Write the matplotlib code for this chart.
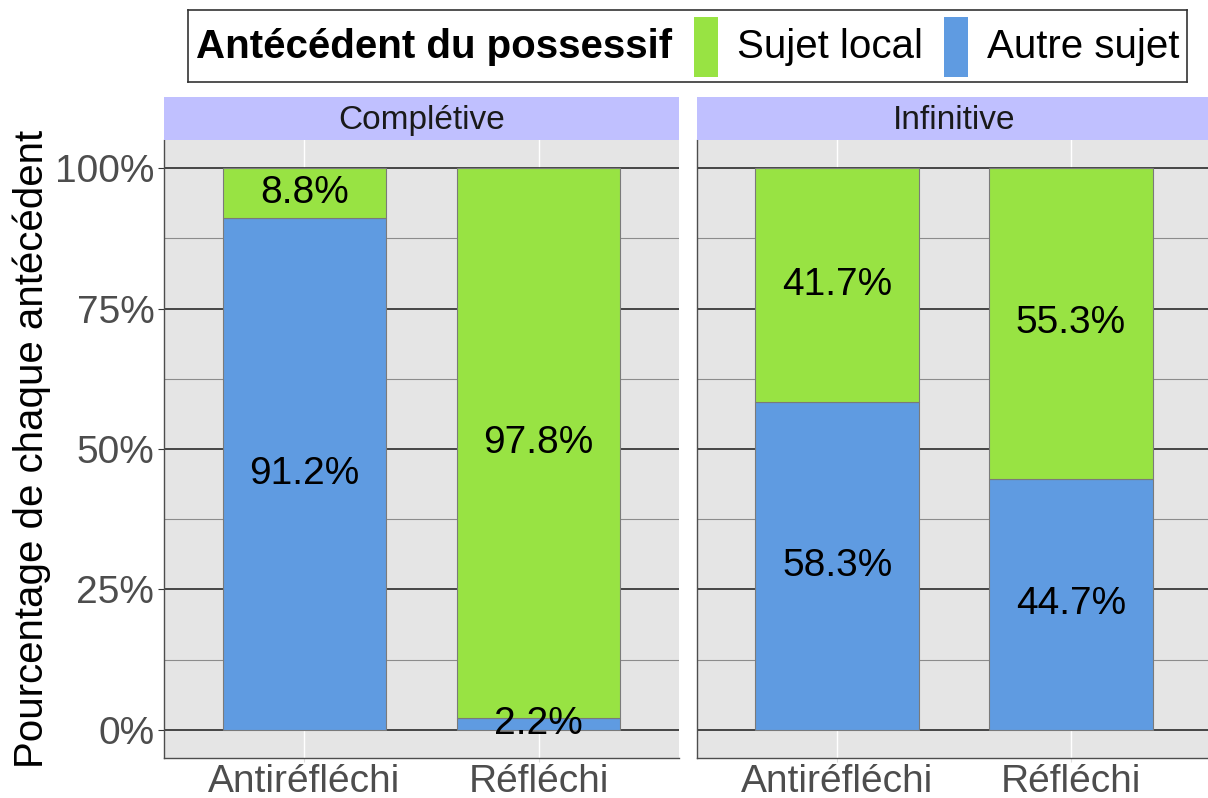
import matplotlib.pyplot as plt
from matplotlib.patches import Rectangle
from matplotlib.ticker import MultipleLocator, PercentFormatter

plt.rcParams['font.family'] = ['Liberation Sans', 'DejaVu Sans']

facets = ["Complétive", "Infinitive"]
categories = ["Antiréfléchi", "Réfléchi"]
# percentages per facet, bottom segment first
autre_sujet = [[91.2, 2.2], [58.3, 44.7]]
sujet_local = [[8.8, 97.8], [41.7, 55.3]]

green = "#98E343"
blue = "#5F9BE1"
W, H = 1208, 798

fig = plt.figure(figsize=(W / 100, H / 100), dpi=100)


def box(x0, x1, y0, y1):
    return [x0 / W, 1 - y1 / H, (x1 - x0) / W, (y1 - y0) / H]


# second panel runs slightly past the right edge of the canvas
panels = [(164, 679), (697, 1211)]
for i, (x0, x1) in enumerate(panels):
    ax = fig.add_axes(box(x0, x1, 140, 758))
    ax.set_facecolor("#E5E5E5")
    xs = range(1, len(categories) + 1)
    a = [v / 100 for v in autre_sujet[i]]
    s = [v / 100 for v in sujet_local[i]]
    ax.bar(xs, a, width=0.7, color=blue, edgecolor="#7a7a7a", linewidth=0.8, zorder=3)
    ax.bar(xs, s, bottom=a, width=0.7, color=green, edgecolor="#7a7a7a", linewidth=0.8, zorder=3)
    for x, va, vs in zip(xs, autre_sujet[i], sujet_local[i]):
        ax.text(x, va / 200, f"{va}%", ha="center", va="center", fontsize=28, zorder=4)
        ax.text(x, va / 100 + vs / 200, f"{vs}%", ha="center", va="center", fontsize=28, zorder=4)

    ax.set_xlim(0.4, 2.6)
    ax.set_ylim(-0.05, 1.05)
    ax.set_xticks(list(xs))
    ax.set_xticklabels(categories, fontsize=28, color="#4d4d4d")
    ax.yaxis.set_major_locator(MultipleLocator(0.25))
    ax.yaxis.set_minor_locator(MultipleLocator(0.125))
    ax.yaxis.set_major_formatter(PercentFormatter(1.0, decimals=0))
    ax.grid(axis="y", which="major", color="#1a1a1a", linewidth=1.1, zorder=1)
    ax.grid(axis="y", which="minor", color="#8c8c8c", linewidth=0.8, zorder=1)
    ax.grid(axis="x", which="major", color="white", linewidth=1.0, zorder=1)
    ax.set_axisbelow(True)
    ax.tick_params(axis="y", which="minor", length=0)
    ax.tick_params(axis="x", length=3, color="#dddddd", pad=1)
    ax.tick_params(axis="y", length=4, color="#333333", labelsize=28,
                   labelcolor="#4d4d4d", pad=3)
    for side in ["top", "right"]:
        ax.spines[side].set_visible(False)
    for side in ["left", "bottom"]:
        ax.spines[side].set_color("#4d4d4d")
        ax.spines[side].set_linewidth(1.0)
    if i == 0:
        ax.set_ylabel("Pourcentage de chaque antécédent", fontsize=29, labelpad=3)
    else:
        ax.tick_params(axis="y", labelleft=False, length=0)

    # facet strip
    sx = fig.add_axes(box(x0, x1, 97, 140))
    sx.set_facecolor("#C0C0FF")
    sx.set_xticks([])
    sx.set_yticks([])
    for sp in sx.spines.values():
        sp.set_visible(False)
    sx.text(0.5, 0.45, facets[i], ha="center", va="center", fontsize=24,
            color="#1a1a1a", transform=sx.transAxes)

# legend across the top
lg = fig.add_axes(box(188, 1187, 10, 82))
lg.set_xlim(188, 1187)
lg.set_ylim(82, 10)
lg.set_xticks([])
lg.set_yticks([])
for sp in lg.spines.values():
    sp.set_color("#333333")
    sp.set_linewidth(1.2)
lg.text(196, 47, "Antécédent du possessif", fontsize=29, fontweight="bold",
        va="center", ha="left")
legend_items = [("Sujet local", green, 694), ("Autre sujet", blue, 944)]
for label, col, kx in legend_items:
    lg.add_patch(Rectangle((kx, 17), 24, 60, facecolor=col, edgecolor="none"))
    lg.text(kx + 43, 47, label, fontsize=29, va="center", ha="left")

fig.savefig("out.png", dpi=100)
